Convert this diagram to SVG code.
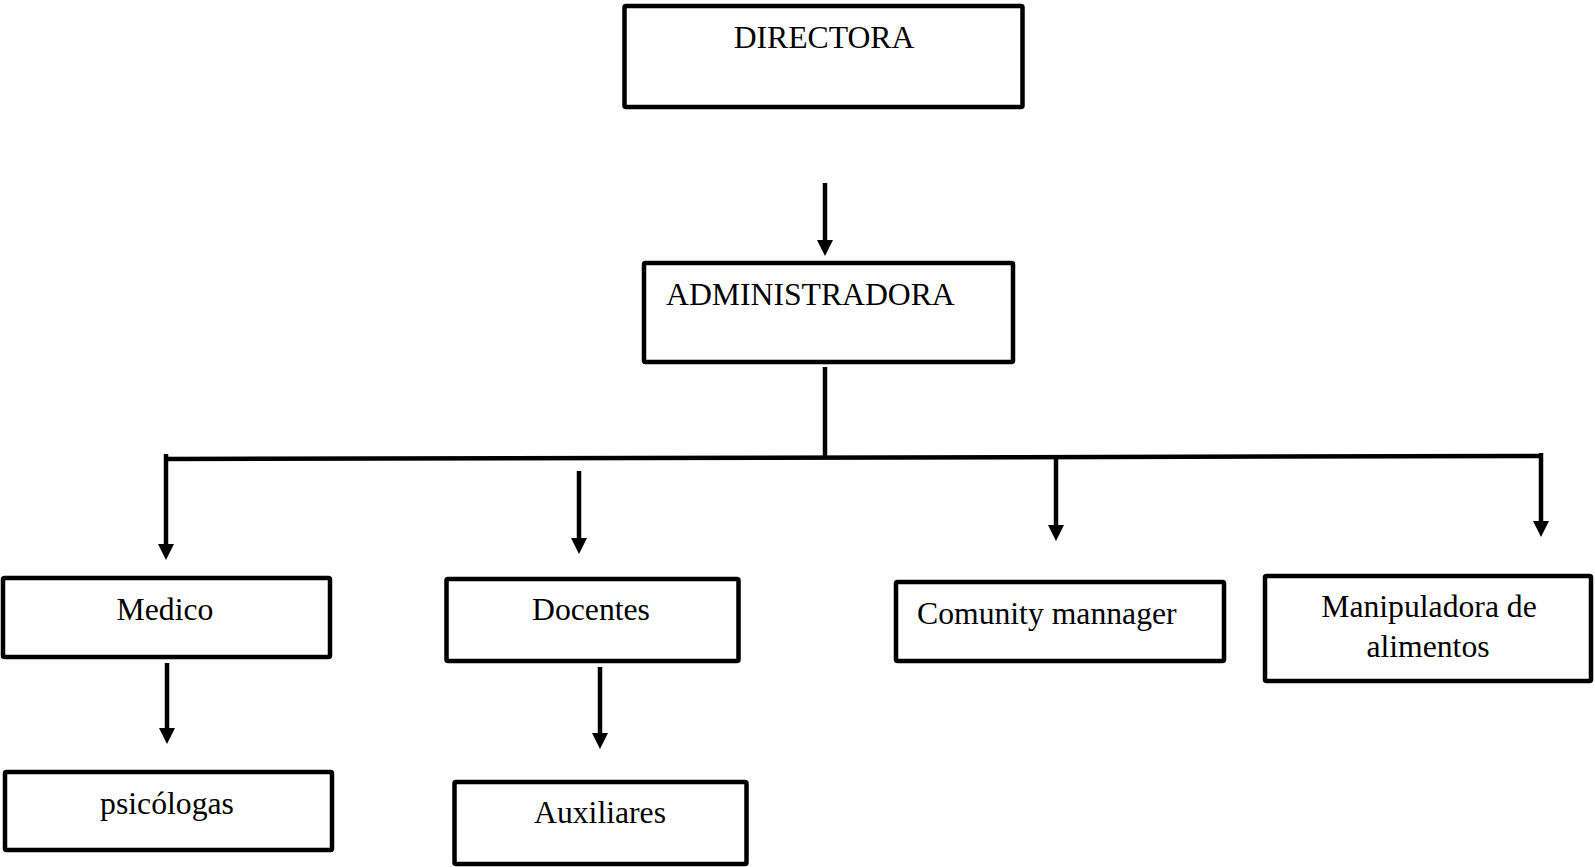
<svg xmlns="http://www.w3.org/2000/svg" width="1595" height="867" viewBox="0 0 1595 867">
  <style>
    .box { fill: #ffffff; stroke: #000000; stroke-width: 4.5; stroke-linejoin: round; }
    .label { font-family: "Liberation Serif", "Times New Roman", serif; font-size: 31.7px; fill: #000000; }
    .mid { text-anchor: middle; }
    .wire { fill: none; stroke: #000000; stroke-width: 4.5; stroke-linecap: butt; }
  </style>
  <defs>
    <marker id="arrowhead" markerUnits="userSpaceOnUse" markerWidth="17" markerHeight="17" refX="1" refY="8" orient="auto">
      <path d="M0,0 L16,8 L0,16 Z" fill="#000000"/>
    </marker>
  </defs>

  <rect width="1595" height="867" fill="#ffffff"/>

  <!-- connectors -->
  <g id="connectors">
    <line class="wire" x1="825" y1="183" x2="825" y2="241" marker-end="url(#arrowhead)"/>
    <line class="wire" x1="825" y1="367" x2="825" y2="459"/>
    <line class="wire" x1="164" y1="459" x2="1539" y2="456"/>
    <line class="wire" x1="166" y1="454" x2="166" y2="545" marker-end="url(#arrowhead)"/>
    <line class="wire" x1="579" y1="471" x2="579" y2="539" marker-end="url(#arrowhead)"/>
    <line class="wire" x1="1056" y1="457" x2="1056" y2="526" marker-end="url(#arrowhead)"/>
    <line class="wire" x1="1541" y1="453" x2="1541" y2="522" marker-end="url(#arrowhead)"/>
    <line class="wire" x1="167" y1="663" x2="167" y2="729" marker-end="url(#arrowhead)"/>
    <line class="wire" x1="600" y1="667" x2="600" y2="734" marker-end="url(#arrowhead)"/>
  </g>

  <!-- nodes -->
  <g id="directora">
    <rect class="box" x="624.5" y="6" width="398" height="101" rx="1.5"/>
    <text class="label mid" x="824" y="48">DIRECTORA</text>
  </g>
  <g id="administradora">
    <rect class="box" x="644" y="263" width="369" height="99" rx="1.5"/>
    <text class="label" x="666" y="305">ADMINISTRADORA</text>
  </g>
  <g id="medico">
    <rect class="box" x="3" y="578" width="327" height="79" rx="1.5"/>
    <text class="label mid" x="165" y="620">Medico</text>
  </g>
  <g id="docentes">
    <rect class="box" x="446.5" y="579" width="292" height="82" rx="1.5"/>
    <text class="label mid" x="591" y="620">Docentes</text>
  </g>
  <g id="comunity-mannager">
    <rect class="box" x="896" y="582" width="328" height="79" rx="1.5"/>
    <text class="label" x="917" y="624">Comunity mannager</text>
  </g>
  <g id="manipuladora">
    <rect class="box" x="1265" y="576" width="326" height="105" rx="1.5"/>
    <text class="label mid" x="1429" y="617">Manipuladora de</text>
    <text class="label mid" x="1428" y="657">alimentos</text>
  </g>
  <g id="psicologas">
    <rect class="box" x="5" y="772" width="327" height="78" rx="1.5"/>
    <text class="label mid" x="167" y="814">psicólogas</text>
  </g>
  <g id="auxiliares">
    <rect class="box" x="454.5" y="782" width="292" height="82" rx="1.5"/>
    <text class="label mid" x="600" y="823">Auxiliares</text>
  </g>
</svg>
